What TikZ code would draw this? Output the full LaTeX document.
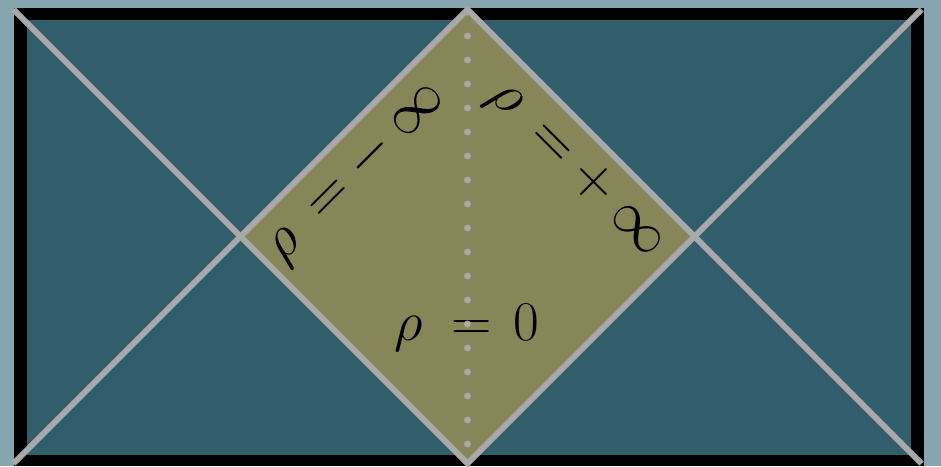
\RequirePackage{fix-cm}
\documentclass[tikz,border=0pt]{standalone}
\usetikzlibrary{calc}

\definecolor{bgslate}{HTML}{87A5AF}
\definecolor{bulkteal}{HTML}{325E6B}
\definecolor{wedgeolive}{HTML}{878659}
\definecolor{nullgray}{HTML}{A9A9A9}

\begin{document}
\begin{tikzpicture}[
  x=0.5pt, y=-0.5pt,
  nullray/.style={draw=nullgray, line width=2.9pt, line join=miter},
  axis/.style={draw=nullgray, line width=3.5pt, line cap=round,
    dash pattern=on 0pt off 12pt},
  rholabel/.style={inner sep=0pt, font=\fontsize{28}{32}\selectfont},
  edgelabel/.style={inner sep=0pt, font=\fontsize{29.5}{34}\selectfont}
]

% Canvas
\fill[bgslate] (0,0) rectangle (941,466);
\useasboundingbox (0,0) rectangle (941,466);

% Black frame and bulk region
\fill[black] (14,8) rectangle (924,466);
\fill[bulkteal] (27,20) rectangle (911,455);

% Corners of the strip and vertices of the wedge
\coordinate (tl) at (13.5,9.5);
\coordinate (tr) at (921.5,9.5);
\coordinate (bl) at (13.5,463.5);
\coordinate (br) at (921.5,463.5);
\coordinate (top) at (467.5,9.5);
\coordinate (bot) at (467.5,463.5);
\coordinate (lft) at (240.5,236.5);
\coordinate (rgt) at (694.5,236.5);

% Wedge
\fill[wedgeolive] (top) -- (rgt) -- (bot) -- (lft) -- cycle;

% Labels
\node[rholabel, anchor=base] (rho0) at (467,340)
  {$\rho\mkern9mu\mathord{=}\mkern7mu0$};
\node[edgelabel, rotate=45] (rhominus) at (357,173)
  {$\rho\mkern8.5mu\mathord{=}\mkern4.5mu\mathord{-}\mkern4mu\infty$};
\node[edgelabel, rotate=-45] (rhoplus) at (576,170)
  {$\rho\mkern8.5mu\mathord{=}\mkern4.5mu\mathord{+}\mkern4mu\infty$};

% Dotted axis
\coordinate (axtop) at (467.5,12);
\coordinate (axbot) at (467.5,462);
\draw[axis] (axtop) -- (axbot);

% Null rays
\draw[nullray] (tl) -- (bot) -- (tr);
\draw[nullray] (bl) -- (top) -- (br);

\end{tikzpicture}
\end{document}
